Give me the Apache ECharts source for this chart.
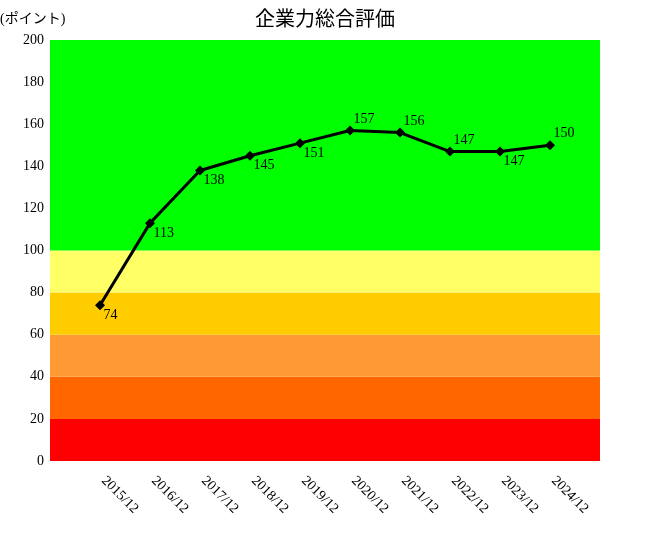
<!DOCTYPE html>
<html>
<head>
<meta charset="utf-8">
<script src="https://cdn.jsdelivr.net/npm/echarts@6/dist/echarts.min.js"></script>
<style>
html,body{margin:0;padding:0;background:#fff;}
#main{width:650px;height:540px;}
</style>
</head>
<body>
<div id="main"></div>
<script>
var categories = ['2015/12','2016/12','2017/12','2018/12','2019/12','2020/12','2021/12','2022/12','2023/12','2024/12'];
var scores = [74, 113, 138, 145, 151, 157, 156, 147, 147, 150];
var labelSide = ['below','below','below','below','below','above','above','above','below','above'];
var bandEdges = [0, 20, 40, 60, 80, 100, 200];
var bandColors = ['#ff0000','#ff6600','#ff9933','#ffcc00','#ffff66','#00ff00'];
var yTicks = [0, 20, 40, 60, 80, 100, 120, 140, 160, 180, 200];

var FONT = "'Liberation Serif', 'Noto Sans CJK JP', serif";

var axisCats = [''].concat(categories).concat(['']);
var seriesData = ['-'];
scores.forEach(function (v, i) {
  var below = labelSide[i] === 'below';
  seriesData.push({
    value: v,
    label: { offset: below ? [-1.5, 10] : [-1.5, -11.5] }
  });
});
seriesData.push('-');

var areas = [];
for (var i = 0; i < bandColors.length; i++) {
  areas.push([
    { yAxis: bandEdges[i], itemStyle: { color: bandColors[i], opacity: 1 } },
    { yAxis: bandEdges[i + 1] }
  ]);
}

var chart = echarts.init(document.getElementById('main'), null, { renderer: 'canvas' });
chart.setOption({
  animation: false,
  backgroundColor: '#ffffff',
  textStyle: { fontFamily: FONT },
  title: [
    {
      text: '企業力総合評価',
      left: 'center',
      top: 6,
      textStyle: { fontFamily: FONT, fontSize: 20, fontWeight: 'normal', color: '#000' }
    },
    {
      text: '(ポイント)',
      left: 0,
      top: 12,
      padding: 0,
      textStyle: { fontFamily: FONT, fontSize: 14, fontWeight: 'normal', color: '#000' }
    }
  ],
  grid: { left: 50, right: 50, top: 40, bottom: 79, containLabel: false },
  xAxis: {
    type: 'category',
    data: axisCats,
    boundaryGap: false,
    axisLine: { show: false },
    axisTick: { show: false },
    splitLine: { show: false },
    axisLabel: {
      interval: 0,
      rotate: -45,
      margin: 14,
      padding: [0, 0, 0, 5],
      fontFamily: FONT,
      fontSize: 14,
      color: '#000'
    }
  },
  yAxis: {
    type: 'value',
    min: 0,
    max: 200,
    interval: 20,
    axisLine: { show: false },
    axisTick: { show: false },
    splitLine: { show: false },
    axisLabel: {
      margin: 6,
      fontFamily: FONT,
      fontSize: 14,
      color: '#000',
      customValues: yTicks
    }
  },
  series: [
    {
      type: 'line',
      data: seriesData,
      symbol: 'diamond',
      symbolSize: 10,
      z: 5,
      lineStyle: { color: '#000', width: 3 },
      itemStyle: { color: '#000' },
      label: {
        show: true,
        position: 'right',
        distance: 0,
        fontFamily: FONT,
        fontSize: 14,
        color: '#000'
      },
      markArea: {
        silent: true,
        z: 1,
        data: areas
      }
    }
  ]
});
</script>
</body>
</html>
